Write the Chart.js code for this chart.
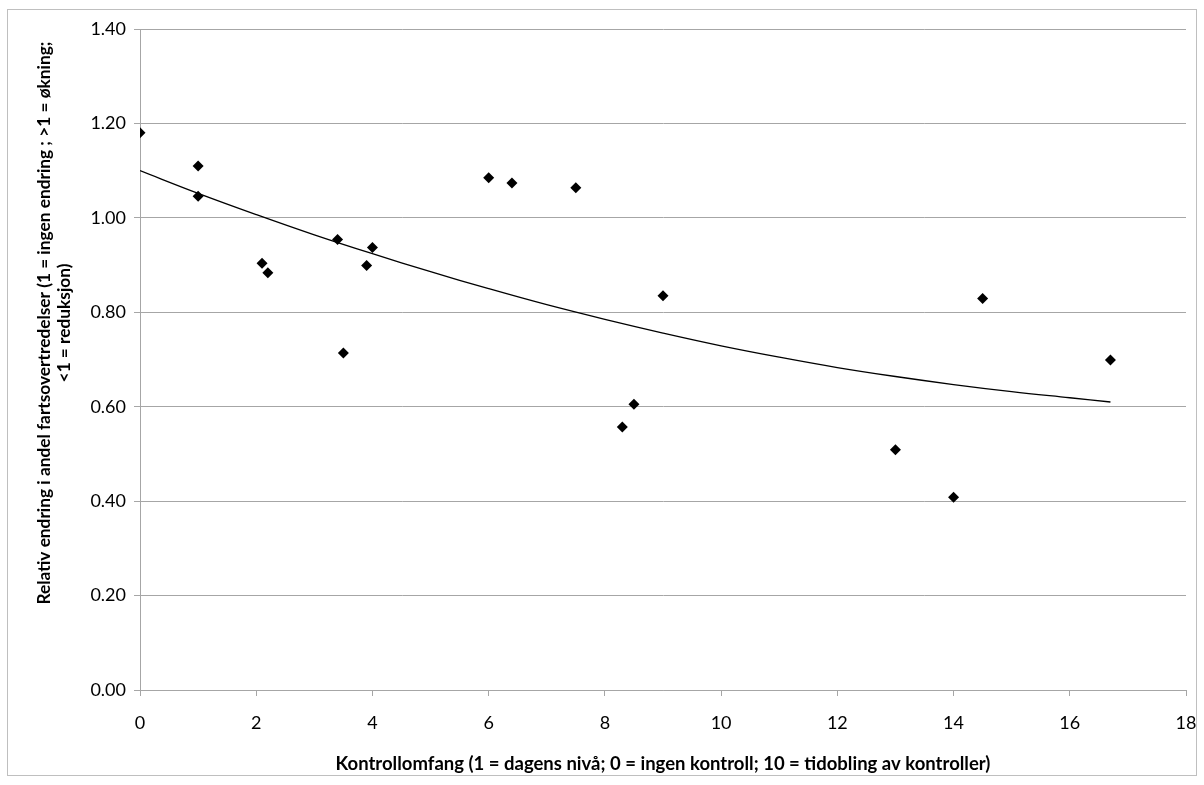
<!DOCTYPE html>
<html>
<head>
<meta charset="utf-8">
<script src="https://cdn.jsdelivr.net/npm/chart.js@4"></script>
<style>
    body { margin: 0; background: #fff; }
    #boks { position: absolute; left: 7px; top: 9px; width: 1188px; height: 765px; border: 1px solid #bfbfbf; }
</style>
</head>
<body>
<div id="boks"><canvas id="graf"></canvas></div>
<script>
// Målinger (kontrollomfang, relativ endring)
const kontrollomfang = [0, 1, 1, 2.1, 2.2, 3.4, 3.5, 3.9, 4.0, 6.0, 6.4, 7.5, 8.3, 8.5, 9.0, 13.0, 14.0, 14.5, 16.7];
const relativEndring = [1.18, 1.11, 1.046, 0.904, 0.884, 0.954, 0.714, 0.899, 0.937, 1.085, 1.074, 1.064, 0.557, 0.605, 0.835, 0.509, 0.408, 0.829, 0.699];

// Trendlinje
const trendX = [0, 1, 2, 3, 4, 5, 6, 7, 8, 9, 10, 11, 12, 13, 14, 15, 16, 16.7];
const trendY = [1.100, 1.052, 1.007, 0.964, 0.924, 0.886, 0.850, 0.816, 0.785, 0.756, 0.729, 0.705, 0.683, 0.664, 0.647, 0.632, 0.619, 0.610];

const xTittel = 'Kontrollomfang (1 = dagens nivå; 0 = ingen kontroll; 10 = tidobling av kontroller)';
const yTittel = ['Relativ endring i andel fartsovertredelser (1 = ingen endring ; >1 = økning;', '<1 = reduksjon)'];

const grå = '#a6a6a6';
const skrift = 'Lato, "Noto Sans", sans-serif';

// Y-aksetittel tegnes selv, for å få den plassert som i originalen
const yTittelPlugin = {
    id: 'yTittel',
    afterDraw(chart) {
        const c = chart.ctx;
        c.save();
        c.fillStyle = '#000';
        c.font = 'bold 17.3px ' + skrift;
        c.textAlign = 'center';
        c.textBaseline = 'middle';
        const linjeX = [36, 56];
        yTittel.forEach((tekst, i) => {
            c.save();
            c.translate(linjeX[i], 313);
            c.rotate(-Math.PI / 2);
            c.fillText(tekst, 0, 0);
            c.restore();
        });
        c.restore();
    }
};

const ctx = document.getElementById('graf').getContext('2d');
new Chart(ctx, {
    type: 'scatter',
    data: {
        datasets: [{
            label: 'Målinger',
            data: kontrollomfang.map((x, i) => ({ x: x, y: relativEndring[i] })),
            pointStyle: 'rectRot',
            pointRadius: 5.5,
            backgroundColor: '#000',
            borderColor: '#000',
            borderWidth: 0
        }, {
            label: 'Trend',
            type: 'line',
            data: trendX.map((x, i) => ({ x: x, y: trendY[i] })),
            borderColor: '#000',
            borderWidth: 1.3,
            pointRadius: 0,
            tension: 0.4,
            fill: false
        }]
    },
    options: {
        responsive: true,
        maintainAspectRatio: false,
        animation: false,
        layout: { padding: { left: 0, top: 19, right: 10, bottom: 0 } },
        plugins: { legend: { display: false }, tooltip: { enabled: false } },
        scales: {
            x: {
                type: 'linear',
                min: 0,
                max: 18,
                ticks: { stepSize: 2, color: '#000', padding: 16, font: { family: skrift, size: 18 } },
                grid: { drawOnChartArea: false, color: grå, tickLength: 6 },
                border: { color: grå },
                title: { display: true, text: xTittel, color: '#000', padding: { top: 6, bottom: 0 }, font: { family: skrift, size: 18.5, weight: 'bold' } },
                afterFit: scale => {
                    scale.height = 85;
                    scale.paddingLeft = 0;
                    scale.paddingRight = 0;
                }
            },
            y: {
                min: 0,
                max: 1.4,
                ticks: { stepSize: 0.2, color: '#000', padding: 8, font: { family: skrift, size: 18 }, callback: v => v.toFixed(2) },
                grid: { color: grå, tickLength: 6 },
                border: { color: grå },
                afterFit: scale => { scale.width = 132; }
            }
        }
    },
    plugins: [yTittelPlugin]
});
</script>
</body>
</html>
